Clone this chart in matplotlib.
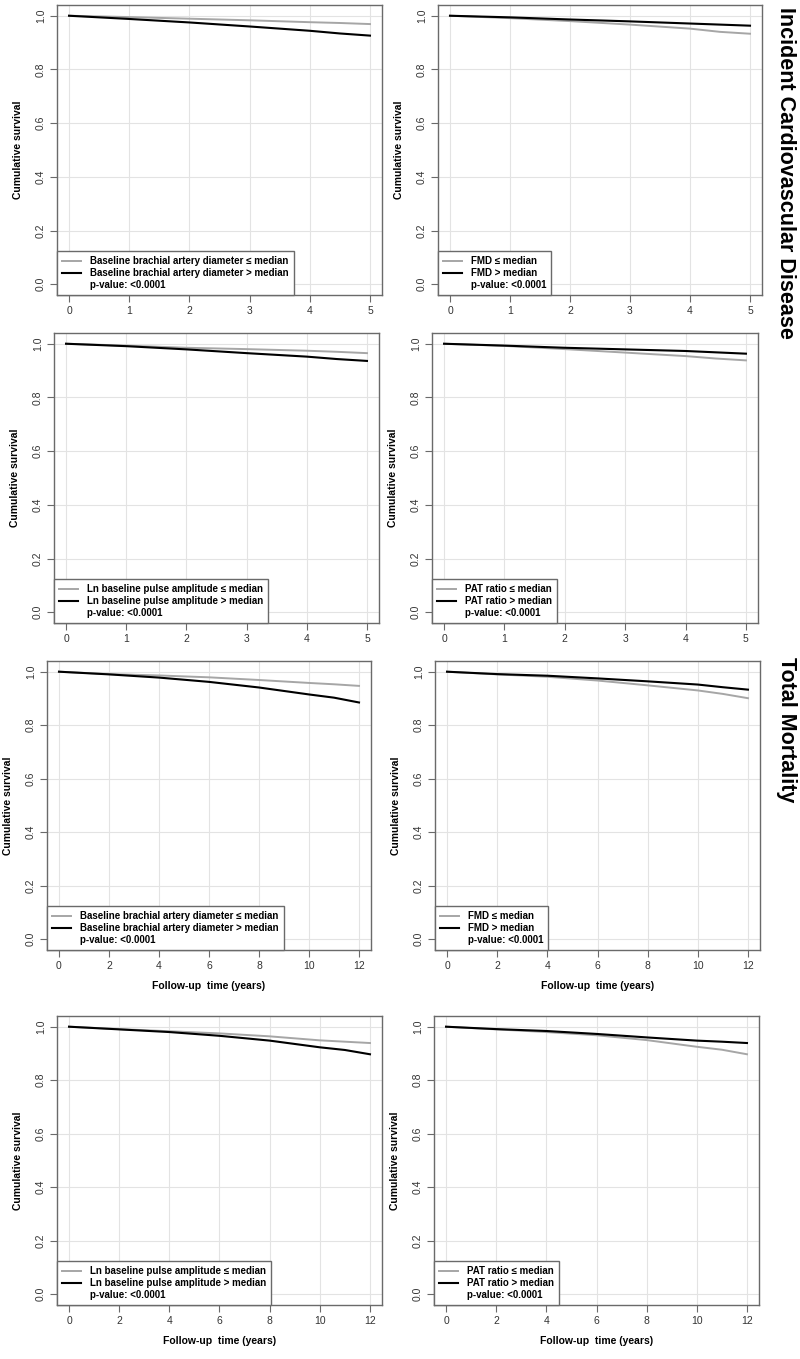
import matplotlib
matplotlib.use("Agg")
import matplotlib.pyplot as plt
from matplotlib.lines import Line2D

plt.rcParams['font.family'] = ['Liberation Sans', 'DejaVu Sans']

# follow-up times (years)
t_cvd = [0, 1, 2, 3, 4, 4.5, 5]
t_mort = [0, 2, 4, 6, 8, 10, 11, 12]

# incident cardiovascular disease, <= median / > median
cvd_bad_low = [1.0, 0.995, 0.989, 0.983, 0.976, 0.973, 0.969]
cvd_bad_high = [1.0, 0.988, 0.975, 0.960, 0.944, 0.934, 0.926]
cvd_fmd_low = [1.0, 0.991, 0.980, 0.967, 0.952, 0.940, 0.933]
cvd_fmd_high = [1.0, 0.994, 0.986, 0.979, 0.971, 0.967, 0.963]
cvd_pa_low = [1.0, 0.993, 0.985, 0.980, 0.974, 0.970, 0.965]
cvd_pa_high = [1.0, 0.991, 0.979, 0.965, 0.952, 0.943, 0.936]
cvd_pat_low = [1.0, 0.992, 0.980, 0.967, 0.954, 0.945, 0.938]
cvd_pat_high = [1.0, 0.993, 0.985, 0.979, 0.973, 0.968, 0.963]

# total mortality
mort_bad_low = [1.0, 0.991, 0.986, 0.979, 0.969, 0.958, 0.953, 0.947]
mort_bad_high = [1.0, 0.990, 0.978, 0.962, 0.941, 0.915, 0.903, 0.885]
mort_fmd_low = [1.0, 0.990, 0.981, 0.967, 0.949, 0.930, 0.917, 0.901]
mort_fmd_high = [1.0, 0.991, 0.985, 0.975, 0.964, 0.952, 0.942, 0.933]
mort_pa_low = [1.0, 0.991, 0.983, 0.975, 0.964, 0.949, 0.944, 0.939]
mort_pa_high = [1.0, 0.990, 0.980, 0.966, 0.948, 0.923, 0.913, 0.897]
mort_pat_low = [1.0, 0.990, 0.980, 0.968, 0.950, 0.925, 0.914, 0.897]
mort_pat_high = [1.0, 0.991, 0.984, 0.973, 0.960, 0.948, 0.944, 0.939]

names = ["Baseline brachial artery diameter", "FMD",
         "Ln baseline pulse amplitude", "PAT ratio"]
pval = "p-value: <0.0001"

W, H = 800, 1359
fig = plt.figure(figsize=(W / 100, H / 100), dpi=100)

# panel boxes in pixels: left, top, right, bottom
boxes = [
    (57, 5, 382, 295), (438, 5, 762, 295),
    (54, 333, 379, 623), (432, 333, 758, 623),
    (47, 661, 371, 950), (435, 661, 760, 950),
    (57, 1016, 382, 1305), (434, 1016, 759, 1305),
]

panels = [
    (t_cvd, cvd_bad_low, cvd_bad_high, names[0]),
    (t_cvd, cvd_fmd_low, cvd_fmd_high, names[1]),
    (t_cvd, cvd_pa_low, cvd_pa_high, names[2]),
    (t_cvd, cvd_pat_low, cvd_pat_high, names[3]),
    (t_mort, mort_bad_low, mort_bad_high, names[0]),
    (t_mort, mort_fmd_low, mort_fmd_high, names[1]),
    (t_mort, mort_pa_low, mort_pa_high, names[2]),
    (t_mort, mort_pat_low, mort_pat_high, names[3]),
]

gray = '#a6a6a6'
frame = '#6a6a6a'

for i, (box, (t, low, high, name)) in enumerate(zip(boxes, panels)):
    l, tp, r, b = box
    ax = fig.add_axes([l / W, 1 - b / H, (r - l) / W, (b - tp) / H])
    tmax = t[-1]
    ax.set_xlim(-0.04 * tmax, 1.04 * tmax)
    ax.set_ylim(-0.04, 1.04)
    if tmax == 5:
        ax.set_xticks(range(0, 6))
    else:
        ax.set_xticks(range(0, 13, 2))
    ax.set_yticks([0, 0.2, 0.4, 0.6, 0.8, 1.0])
    ax.set_yticklabels(['0.0', '0.2', '0.4', '0.6', '0.8', '1.0'],
                       rotation=90, va='center')
    ax.grid(True, color='#e3e3e3', linewidth=0.8)
    ax.set_axisbelow(True)
    for s in ax.spines.values():
        s.set_color(frame)
        s.set_linewidth(1.0)
    ax.tick_params(direction='out', length=5, width=0.8, colors=frame,
                   labelcolor='#333333', labelsize=7.5, pad=3)

    ax.plot(t, low, color=gray, linewidth=1.4)
    ax.plot(t, high, color='black', linewidth=1.5)

    ax.set_ylabel('Cumulative survival', fontsize=7.5, fontweight='bold')
    ax.yaxis.set_label_coords(-34 / (r - l), 0.5)
    if i >= 4:
        ax.set_xlabel('Follow-up  time (years)', fontsize=7.5, fontweight='bold')
        ax.xaxis.set_label_coords(0.5, -31 / (b - tp))

    handles = [Line2D([], [], color=gray, linewidth=1.4),
               Line2D([], [], color='black', linewidth=1.5),
               Line2D([], [], color='none')]
    labels = [name + ' \u2264 median', name + ' > median', pval]
    leg = ax.legend(handles, labels, loc='lower left', borderaxespad=0,
                    fancybox=False, framealpha=1, edgecolor=frame,
                    prop={'weight': 'bold', 'size': 7},
                    handlelength=2.0, handletextpad=0.9, labelspacing=0.2,
                    borderpad=0.5)
    leg.get_frame().set_linewidth(1.0)

fig.text(786 / W, 1 - 173 / H, 'Incident Cardiovascular Disease', rotation=-90,
         fontsize=15.5, fontweight='bold', ha='center', va='center')
fig.text(786 / W, 1 - 730 / H, 'Total Mortality', rotation=-90,
         fontsize=15.5, fontweight='bold', ha='center', va='center')

fig.savefig('out.png', dpi=100, facecolor='white')
